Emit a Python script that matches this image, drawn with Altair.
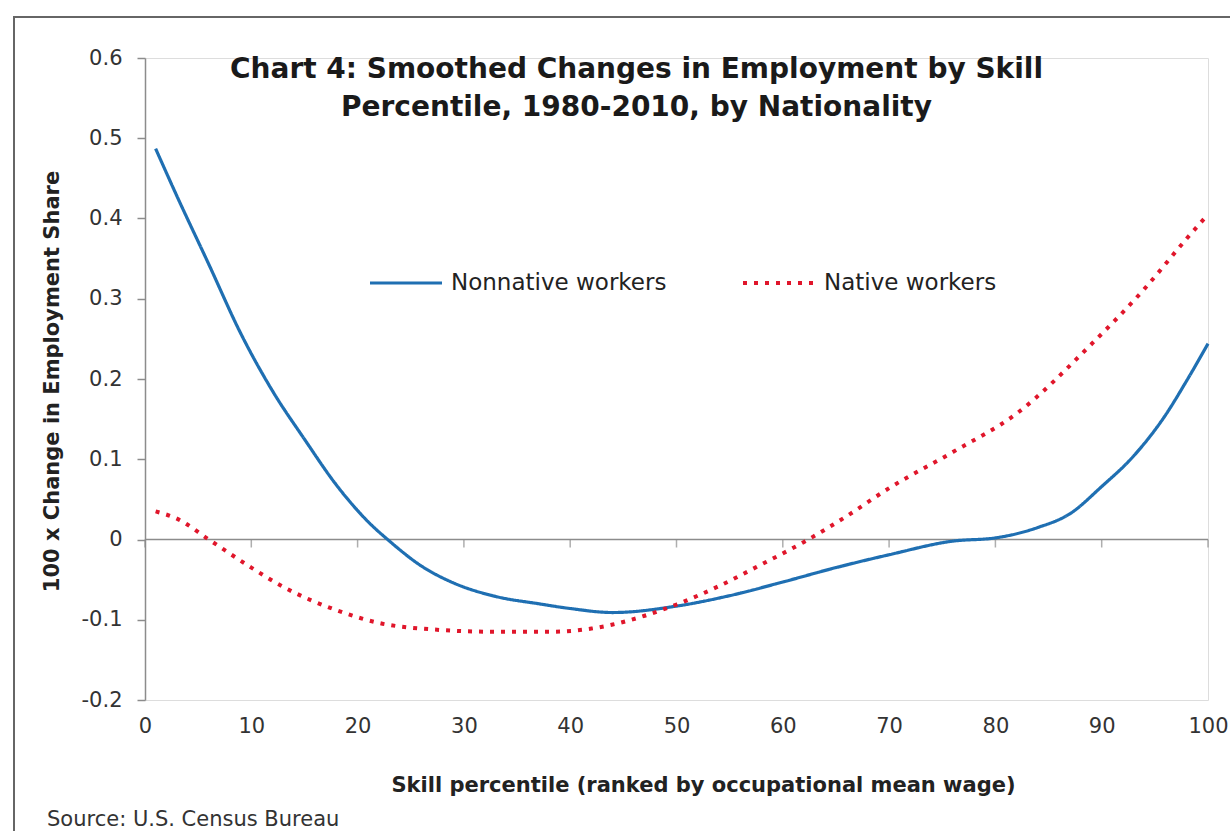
import altair as alt
import pandas as pd

# ---- data ----
series_names = ["Nonnative workers", "Native workers"]

nonnative_x = [1, 3, 6, 9, 12, 15, 18, 21, 23, 26, 29, 33, 37, 40, 44, 50, 55, 60, 65, 70, 76, 80, 84, 87, 90, 93, 96, 98, 100]
nonnative_y = [0.487, 0.428, 0.343, 0.257, 0.185, 0.125, 0.068, 0.022, -0.002, -0.033, -0.054, -0.071, -0.080, -0.086, -0.091, -0.083,
               -0.070, -0.053, -0.035, -0.019, -0.002, 0.002, 0.015, 0.032, 0.066, 0.104, 0.155, 0.198, 0.244]

native_x = [1, 3, 6, 10, 13, 18, 22, 27, 33, 38, 42, 44, 47, 50, 54, 58, 62, 66, 70, 76, 82, 89, 94, 98, 100]
native_y = [0.035, 0.026, 0.0, -0.035, -0.059, -0.088, -0.104, -0.112, -0.115, -0.115, -0.111, -0.106, -0.095, -0.081,
            -0.058, -0.031, -0.003, 0.029, 0.064, 0.109, 0.157, 0.243, 0.312, 0.375, 0.405]

x_ticks = [0, 10, 20, 30, 40, 50, 60, 70, 80, 90, 100]
y_ticks = [-0.2, -0.1, 0.0, 0.1, 0.2, 0.3, 0.4, 0.5, 0.6]

title_lines = ["Chart 4: Smoothed Changes in Employment by Skill", "Percentile, 1980-2010, by Nationality"]
x_title = "Skill percentile (ranked by occupational mean wage)"
y_title = "100 x Change in Employment Share"
source_text = "Source: U.S. Census Bureau"

colors = ["#1f6fb2", "#e0162b"]
dashes = [[1, 0], [4, 7]]
widths = [3.2, 4]

df = pd.DataFrame({
    "x": nonnative_x + native_x,
    "y": nonnative_y + native_y,
    "series": [series_names[0]] * len(nonnative_x) + [series_names[1]] * len(native_x),
})

FONT = "DejaVu Sans"
AXIS_GRAY = "#8c8c8c"

xscale = alt.Scale(domain=[0, 100], nice=False, zero=False)
yscale = alt.Scale(domain=[-0.2, 0.6], nice=False, zero=False)

legend = alt.Legend(
    orient="none", legendX=223, legendY=187, direction="horizontal", title=None,
    symbolType="stroke", symbolSize=5184,
    labelFont=FONT, labelFontSize=23, labelColor="#222", labelOffset=7,
    labelLimit=400, columnPadding=68,
)

lines = alt.Chart(df).mark_line(interpolate="monotone").encode(
    x=alt.X("x:Q", scale=xscale, axis=alt.Axis(
        values=x_ticks, domain=False, ticks=False, grid=False, labelFlush=False,
        labelFont=FONT, labelFontSize=21, labelColor="#333", labelPadding=15,
        title=x_title, titleFont=FONT, titleFontSize=21, titleFontWeight="bold", titleColor="#222",
        titleX=558, titleY=91, titleBaseline="alphabetic",
    )),
    y=alt.Y("y:Q", scale=yscale, axis=alt.Axis(
        values=y_ticks, grid=False, domainColor=AXIS_GRAY, domainWidth=1.5,
        tickColor=AXIS_GRAY, tickSize=8, tickWidth=1.5, labelFlush=False,
        labelFont=FONT, labelFontSize=21, labelColor="#333", labelPadding=15,
        labelExpr="datum.value == 0 ? '0' : (datum.value < 0 ? '-' : '') + format(abs(datum.value), '.1f')",
        title=y_title, titleFont=FONT, titleFontSize=21, titleFontWeight="bold", titleColor="#222",
        titleX=-93, titleY=323, titleBaseline="middle",
    )),
    color=alt.Color("series:N", scale=alt.Scale(domain=series_names, range=colors), legend=legend),
    strokeDash=alt.StrokeDash("series:N", scale=alt.Scale(domain=series_names, range=dashes), legend=legend),
    strokeWidth=alt.StrokeWidth("series:N", scale=alt.Scale(domain=series_names, range=widths), legend=legend),
)

zero_line = alt.Chart(alt.Data(values=[{"y": 0}])).mark_rule(color=AXIS_GRAY, strokeWidth=1.5).encode(
    y=alt.Y("y:Q", scale=yscale)
)

zero_ticks = alt.Chart(pd.DataFrame({"x": x_ticks})).mark_tick(
    orient="vertical", size=8, thickness=1.5, color=AXIS_GRAY, yOffset=4
).encode(x=alt.X("x:Q", scale=xscale), y=alt.datum(0))

frame = alt.Chart(alt.Data(values=[{}])).mark_rect(
    fillOpacity=0, stroke="#666", strokeWidth=2
).encode(x=alt.value(-131), x2=alt.value(1100), y=alt.value(-41), y2=alt.value(790))

source = alt.Chart(alt.Data(values=[{}])).mark_text(
    align="left", baseline="middle", font=FONT, fontSize=21, color="#333"
).encode(x=alt.value(-98), y=alt.value(762), text=alt.value(source_text))

chart = alt.layer(frame, zero_line, zero_ticks, lines, source).properties(
    width=1063, height=642,
    autosize=alt.AutoSizeParams(type="none"),
    padding={"left": 145, "top": 58, "right": 22, "bottom": 131},
    title=alt.TitleParams(
        text=title_lines, font=FONT, fontSize=28, fontWeight="bold", color="#1a1a1a",
        anchor="middle", baseline="top", offset=0, dy=106, dx=-40, lineHeight=38,
    ),
).configure_view(strokeWidth=0).configure(background="white")

chart.save("out.html", embed_options={"renderer": "svg", "actions": False})
